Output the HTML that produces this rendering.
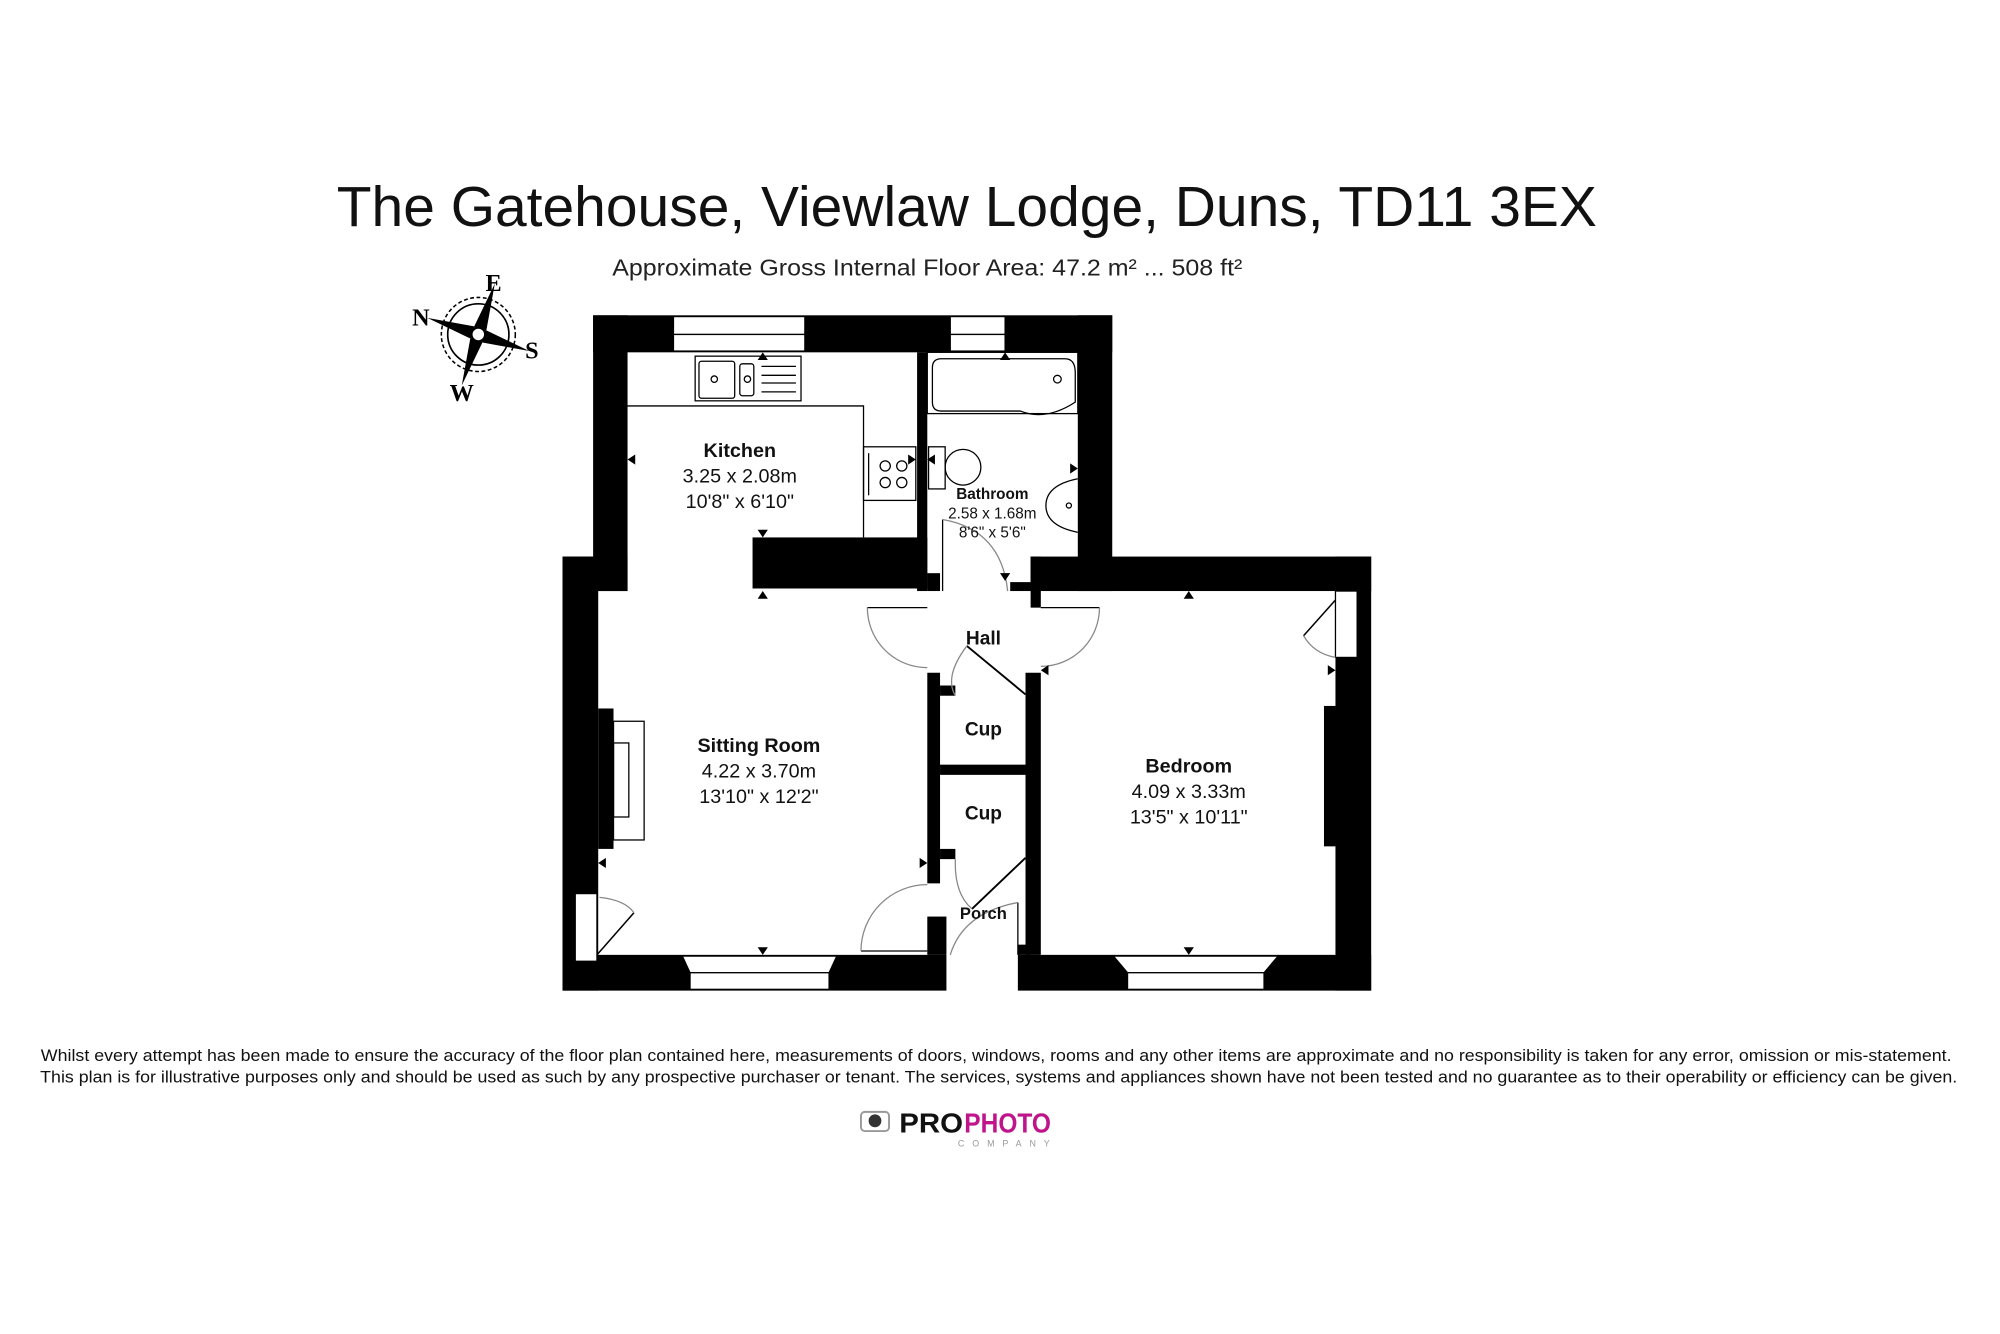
<!DOCTYPE html>
<html><head><meta charset="utf-8"><style>
html,body{margin:0;padding:0;background:#fff;}
svg{display:block;}
text{font-family:"Liberation Sans",Arial,sans-serif;}
text.serif{font-family:"Liberation Serif",serif;}
</style></head><body>
<svg width="2000" height="1334" viewBox="0 0 1568 1045" preserveAspectRatio="none" xmlns="http://www.w3.org/2000/svg">
<rect width="1568" height="1045" fill="#fff"/>
<text x="758" y="177" font-size="44" text-anchor="middle" textLength="988" lengthAdjust="spacingAndGlyphs" fill="#111">The Gatehouse, Viewlaw Lodge, Duns, TD11 3EX</text>
<text x="727" y="216" font-size="18" text-anchor="middle" textLength="494" lengthAdjust="spacingAndGlyphs" fill="#222">Approximate Gross Internal Floor Area: 47.2 m² ... 508 ft²</text>

<!-- compass -->
<g transform="translate(375,262)">
<circle r="24" fill="none" stroke="#000" stroke-width="1.3"/>
<circle r="29" fill="none" stroke="#000" stroke-width="1.2" stroke-dasharray="3,2"/>
<g transform="rotate(18)">
<polygon points="0,-42 5,-5 0,0 -5,-5" fill="#000"/>
<polygon points="0,42 5,5 0,0 -5,5" fill="#000"/>
<polygon points="-42,0 -5,-5 0,0 -5,5" fill="#000"/>
<polygon points="42,0 5,-5 0,0 5,5" fill="#000"/>
</g>
<circle r="5" fill="#fff" stroke="#000" stroke-width="1"/>
<g font-weight="bold" font-size="19" text-anchor="middle">
<text class="serif" x="12" y="-34">E</text><text class="serif" x="-45" y="-7">N</text><text class="serif" x="42" y="19">S</text><text class="serif" x="-13" y="52">W</text></g>
</g>

<g fill="#000">
<rect x="465" y="247" width="407" height="29"/>
<rect x="465" y="247" width="27" height="216"/>
<rect x="441" y="436" width="51" height="27"/>
<rect x="441" y="436" width="28" height="340"/>
<rect x="441" y="748" width="301" height="28"/>
<rect x="719" y="276" width="8" height="187"/>
<rect x="590" y="421" width="137" height="40"/>
<rect x="727" y="449" width="10" height="14"/>
<rect x="845" y="247" width="27" height="216"/>
<rect x="792" y="456" width="16" height="7"/>
<rect x="808" y="436" width="267" height="27"/>
<rect x="1047" y="436" width="28" height="340"/>
<rect x="1038" y="553" width="12" height="110"/>
<rect x="798" y="748" width="277" height="28"/>
<rect x="808" y="436" width="8" height="40"/>
<rect x="727" y="527" width="10" height="165"/>
<rect x="737" y="537" width="12" height="8"/>
<rect x="737" y="599" width="70" height="8"/>
<rect x="737" y="665" width="12" height="8"/>
<rect x="727" y="718" width="15" height="30"/>
<rect x="804" y="527" width="12" height="221"/>
<rect x="798" y="740" width="10" height="8"/>
<rect x="469" y="555" width="12" height="110"/>
</g>
<g fill="#fff" stroke="#000" stroke-width="1">
<rect x="528" y="248" width="103" height="14"/><rect x="528" y="262" width="103" height="13"/>
<rect x="745" y="248" width="43" height="14"/><rect x="745" y="262" width="43" height="13"/>
<polygon points="535,749 656,749 650,762 541,762"/><rect x="541" y="762" width="109" height="13"/>
<polygon points="873,749 1002,749 991,762 884,762"/><rect x="884" y="762" width="107" height="13"/>
<rect x="1047" y="463" width="17" height="52"/>
<rect x="451" y="700" width="17" height="53"/>
</g>
<g fill="none" stroke="#000" stroke-width="1">
<polyline points="492,318 677,318 677,421"/>
<rect x="545" y="279" width="83" height="35" fill="#fff"/>
<rect x="548" y="283" width="28" height="29" rx="2"/>
<rect x="580" y="285" width="11" height="25" rx="2"/>
<circle cx="560" cy="297" r="2.5"/><circle cx="586" cy="297" r="2.5"/>
<line x1="597" y1="287" x2="624" y2="287"/><line x1="597" y1="294" x2="624" y2="294"/><line x1="597" y1="300" x2="624" y2="300"/><line x1="597" y1="307" x2="624" y2="307"/>
<rect x="677" y="350" width="41" height="42"/>
<line x1="681" y1="355" x2="681" y2="388"/>
<circle cx="694" cy="365" r="4"/><circle cx="707" cy="365" r="4"/><circle cx="694" cy="378" r="4"/><circle cx="707" cy="378" r="4"/>
<rect x="727" y="276" width="118" height="48"/>
<path d="M738,281 L835,281 Q843,281 843,292 L843,315 Q820,330 800,322 L738,322 Q731,322 731,315 L731,288 Q731,281 738,281Z"/>
<circle cx="829" cy="297" r="3"/>
<rect x="728" y="350" width="13" height="33"/>
<ellipse cx="755" cy="366" rx="14" ry="14"/>
<path d="M845,375 Q820,380 820,396 Q820,412 845,417"/>
<circle cx="838" cy="396" r="2"/>
<line x1="739" y1="407" x2="739" y2="463"/>
<path d="M739,407 Q785,415 790,463" stroke="#888"/>
<rect x="481" y="565" width="24" height="93"/>
<rect x="481" y="582" width="12" height="58"/>
<polyline points="727,476 680,476"/><path d="M680,476 A47,47 0 0 0 727,523" stroke="#888"/>
<polyline points="816,476 862,476"/><path d="M862,476 A46,46 0 0 1 816,522" stroke="#888"/>
<line x1="758" y1="506" x2="804" y2="544" stroke-width="1.5"/><path d="M758,506 Q740,530 749,545" stroke="#888"/>
<line x1="804" y1="672" x2="762" y2="712" stroke-width="1.5"/><path d="M762,712 Q748,700 749,673" stroke="#888"/>
<polyline points="727,745 675,745"/><path d="M675,745 A52,52 0 0 1 727,693" stroke="#888"/>
<line x1="798" y1="707" x2="798" y2="748"/><path d="M798,707 Q755,715 745,748" stroke="#888"/>
<line x1="468" y1="748" x2="497" y2="715" stroke-width="1.2"/><path d="M497,715 Q490,705 470,703" stroke="#888"/>
<line x1="1047" y1="470" x2="1022" y2="498" stroke-width="1.2"/><path d="M1022,498 Q1030,512 1047,515" stroke="#888"/>
</g>
<g fill="#000">
<polygon points="598,276 594,282 602,282"/><polygon points="788,276 784,282 792,282"/>
<polygon points="492,360 498,356 498,364"/><polygon points="718,360 712,356 712,364"/>
<polygon points="727,360 733,356 733,364"/><polygon points="845,367 839,363 839,371"/>
<polygon points="598,421 594,415 602,415"/><polygon points="598,463 594,469 602,469"/>
<polygon points="788,455 784,449 792,449"/><polygon points="932,463 928,469 936,469"/>
<polygon points="469,676 475,672 475,680"/><polygon points="727,676 721,672 721,680"/>
<polygon points="598,748 594,742 602,742"/><polygon points="932,748 928,742 936,742"/>
<polygon points="816,525 822,521 822,529"/><polygon points="1047,525 1041,521 1041,529"/>
</g>
<g text-anchor="middle" fill="#111">
<text x="580" y="358" font-size="15.5" font-weight="bold">Kitchen</text>
<text x="580" y="378" font-size="15.5">3.25 x 2.08m</text>
<text x="580" y="398" font-size="15.5">10'8" x 6'10"</text>
<text x="778" y="391" font-size="12" font-weight="bold">Bathroom</text>
<text x="778" y="406" font-size="12">2.58 x 1.68m</text>
<text x="778" y="421" font-size="12">8'6" x 5'6"</text>
<text x="771" y="505" font-size="15" font-weight="bold">Hall</text>
<text x="771" y="576" font-size="15" font-weight="bold">Cup</text>
<text x="771" y="642" font-size="15" font-weight="bold">Cup</text>
<text x="771" y="720" font-size="13" font-weight="bold">Porch</text>
<text x="595" y="589" font-size="15.5" font-weight="bold">Sitting Room</text>
<text x="595" y="609" font-size="15.5">4.22 x 3.70m</text>
<text x="595" y="629" font-size="15.5">13'10" x 12'2"</text>
<text x="932" y="605" font-size="15.5" font-weight="bold">Bedroom</text>
<text x="932" y="625" font-size="15.5">4.09 x 3.33m</text>
<text x="932" y="645" font-size="15.5">13'5" x 10'11"</text>
</g>
<g font-size="13" fill="#111" text-anchor="middle">
<text x="781" y="831" textLength="1498" lengthAdjust="spacingAndGlyphs">Whilst every attempt has been made to ensure the accuracy of the floor plan contained here, measurements of doors, windows, rooms and any other items are approximate and no responsibility is taken for any error, omission or mis-statement.</text>
<text x="783" y="848" textLength="1503" lengthAdjust="spacingAndGlyphs">This plan is for illustrative purposes only and should be used as such by any prospective purchaser or tenant. The services, systems and appliances shown have not been tested and no guarantee as to their operability or efficiency can be given.</text>
</g>
<g>
<rect x="675" y="871" width="22" height="15" rx="3" fill="none" stroke="#999" stroke-width="1.5"/>
<circle cx="686" cy="878" r="5" fill="#333"/>
<text x="705" y="887" font-size="22" font-weight="bold" textLength="50" lengthAdjust="spacingAndGlyphs" fill="#111">PRO</text>
<text x="756" y="887" font-size="22" font-weight="bold" textLength="68" lengthAdjust="spacingAndGlyphs" fill="#c0158a">PHOTO</text>
<text x="751" y="898" font-size="7" textLength="72" lengthAdjust="spacing" fill="#999">COMPANY</text>
</g>
</svg>
</body></html>
